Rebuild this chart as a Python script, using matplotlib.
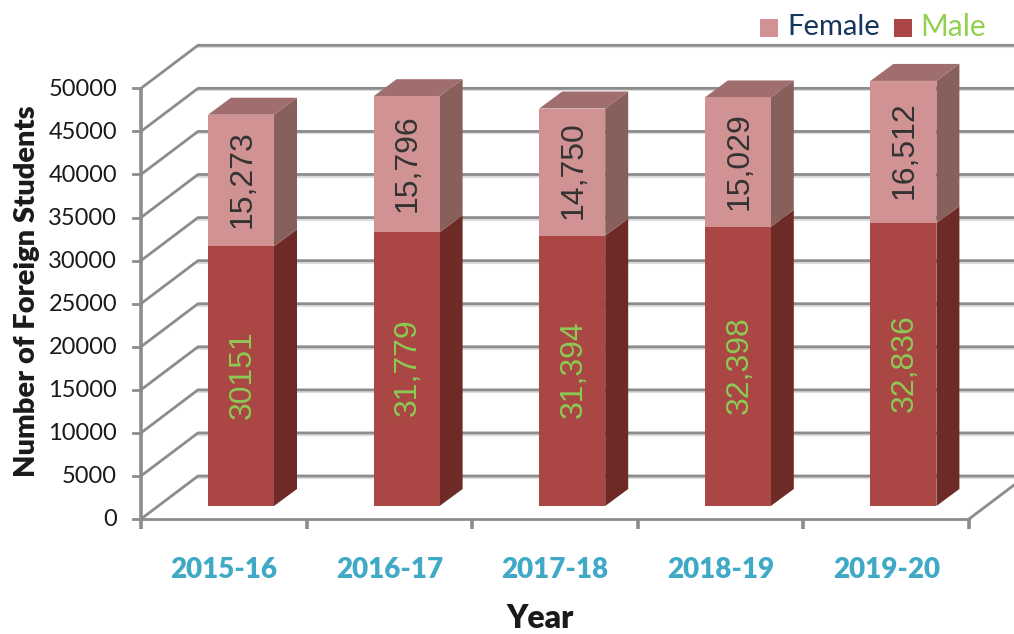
import matplotlib as mp
mp.use('Agg')
import matplotlib.pyplot as plt
from matplotlib.patches import Polygon, Rectangle

years = ['2015-16', '2016-17', '2017-18', '2018-19', '2019-20']
male = [30151, 31779, 31394, 32398, 32836]
female = [15273, 15796, 14750, 15029, 16512]
male_labels = ['30151', '31,779', '31,394', '32,398', '32,836']
female_labels = ['15,273', '15,796', '14,750', '15,029', '16,512']
yticks = [0, 5000, 10000, 15000, 20000, 25000, 30000, 35000, 40000, 45000, 50000]

# pixel scale of the reference, everything else is data units
W, H = 1014, 634
px_x = 165.6
px_y = 0.008614
x0, y0 = 141, 519

# oblique depth
wall_dx = 57 / px_x
wall_dy = 43 / px_y
bar_off = 67 / px_x
bar_w = 66 / px_x
bar_base = 13 / px_y
side_dx = 23 / px_x
side_dy = 17 / px_y

grid_c = '#8c8c8c'
grid_lw = 2.0
shadow_c = '#dcdcdc'

fig = plt.figure(figsize=(W / 100., H / 100.), dpi=100)
ax = fig.add_axes([0, 0, 1, 1])
ax.set_xlim(-x0 / px_x, (W - x0) / px_x)
ax.set_ylim(-(H - y0) / px_y, y0 / px_y)
ax.axis('off')

n = len(years)
sh = 2. / px_y

# walls
for t in yticks:
    ax.plot([wall_dx, n + 1], [t + wall_dy - sh, t + wall_dy - sh], color=shadow_c, lw=1.5, zorder=1)
    ax.plot([0, wall_dx, n + 1], [t, t + wall_dy, t + wall_dy], color=grid_c, lw=grid_lw, zorder=2)
    ax.plot([-8 / px_x, 0], [t, t], color=grid_c, lw=grid_lw, zorder=2)
    ax.text(-24 / px_x, t - 1. / px_y, str(t), ha='right', va='center', fontsize=17,
            family='Lato', color='#1a1a1a')

# floor front + axis
ax.plot([0, 0], [-10 / px_y, yticks[-1]], color=grid_c, lw=2.6, zorder=2, solid_capstyle='butt')
ax.plot([0, n], [0, 0], color=grid_c, lw=grid_lw, zorder=2)
ax.plot([n, n + wall_dx], [0, wall_dy], color=grid_c, lw=grid_lw, zorder=2)
for i in range(1, n + 1):
    ax.plot([i, i], [-10 / px_y, 0], color=grid_c, lw=2.6, zorder=2, solid_capstyle='butt')


def box(x, lo, hi, front, side, top=None):
    xr = x + bar_w
    ax.add_patch(Rectangle((x, lo), bar_w, hi - lo, fc=front, ec='none', zorder=5))
    ax.add_patch(Polygon([(xr, lo), (xr + side_dx, lo + side_dy),
                          (xr + side_dx, hi + side_dy), (xr, hi)],
                         fc=side, ec='none', zorder=4))
    if top:
        ax.add_patch(Polygon([(x, hi), (x + side_dx, hi + side_dy),
                              (xr + side_dx, hi + side_dy), (xr, hi)],
                             fc=top, ec='none', zorder=4))


for i in range(n):
    x = i + bar_off
    m = male[i] + bar_base
    f = m + female[i]
    box(x, bar_base, m, '#aa4643', '#6d2a27')
    box(x, m, f, '#d09292', '#87605c', '#a06e6e')
    xc = x + 1.5 / px_x + bar_w / 2.
    ax.text(xc, (bar_base + m) / 2. + 1.5 / px_y, male_labels[i], rotation=90, ha='center', va='center',
            fontsize=23, family='Liberation Sans', color='#8ccb55', zorder=6)
    ax.text(xc, (m + f) / 2. + 1.5 / px_y, female_labels[i], rotation=90, ha='center', va='center',
            fontsize=23, family='Liberation Sans', color='#333333', zorder=6)
    ax.text(i + 0.5, -51 / px_y, years[i], ha='center', va='center', fontsize=20,
            family='Lato', weight='heavy', color='#3fa9c6')

ax.text(399 / px_x, -100 / px_y, 'Year', ha='center', va='center', fontsize=23,
        family='Lato', weight='heavy', color='#1a1a1a')
ax.text(-114 / px_x, 228 / px_y, 'Number of Foreign Students', rotation=90, ha='center', va='center',
        fontsize=21, family='Lato', weight='heavy', color='#1a1a1a')

# legend, drawn by hand because it sits above the wall
ax.add_patch(Rectangle((619 / px_x, (y0 - 37) / px_y), 18 / px_x, 18 / px_y, fc='#d09292', ec='none'))
ax.add_patch(Rectangle((753 / px_x, (y0 - 37) / px_y), 18 / px_x, 18 / px_y, fc='#aa4643', ec='none'))
ax.text(646 / px_x, (y0 - 27) / px_y, 'Female', va='center', fontsize=21, family='Lato', color='#17365d')
ax.text(779 / px_x, (y0 - 27) / px_y, 'Male', va='center', fontsize=21.5, family='Lato', color='#92d050')

plt.savefig('out.png', dpi=100)
